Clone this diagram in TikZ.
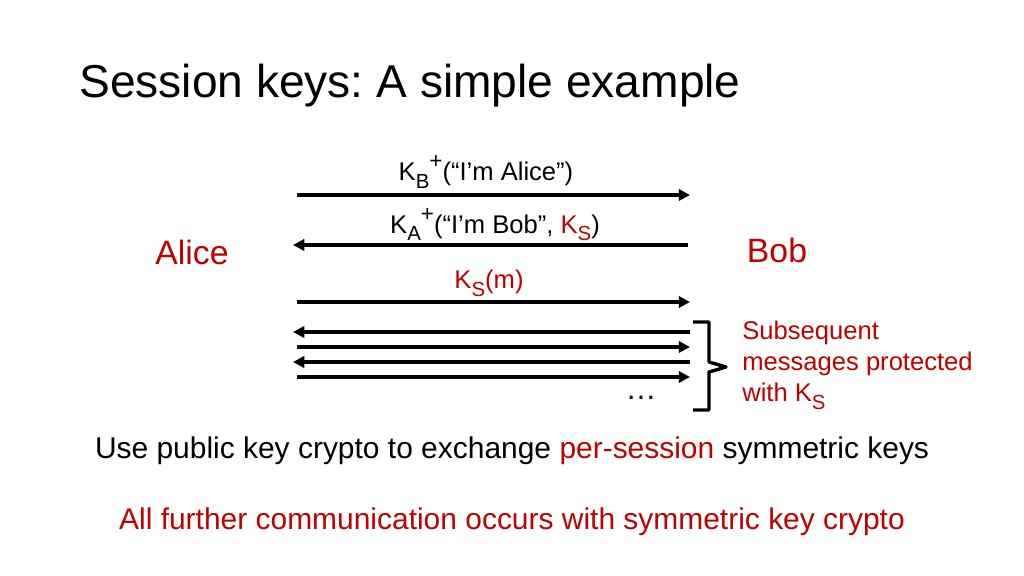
\documentclass[tikz,border=0pt]{standalone}
\usepackage{fontspec}
\setmainfont{Liberation Sans}
\usetikzlibrary{arrows.meta}
\definecolor{dred}{RGB}{192,0,0}
\newcommand{\bigsup}[1]{\raisebox{0.45em}{\fontsize{16}{18}\selectfont #1}}
\newcommand{\lowsub}[1]{\raisebox{-0.3em}{\fontsize{14.5}{16}\selectfont #1}}
\begin{document}
\frenchspacing
\begin{tikzpicture}[x=0.025cm,y=-0.025cm,
  msg/.style={line width=2.2pt,-{Triangle[length=8pt,width=8pt]}},
  lbl/.style={font=\fontsize{18.2}{21}\selectfont,inner sep=0pt},
  body/.style={font=\fontsize{21.3}{25}\selectfont,inner sep=0pt}]
\useasboundingbox (0,0) rectangle (1024,576);
\node[anchor=west,inner sep=0pt,font=\fontsize{32.8}{38}\selectfont] (title) at (79,86) {Session keys: A simple example};
\coordinate (l1) at (297,195); \coordinate (r1) at (690,195);
\coordinate (l2) at (293,245); \coordinate (r2) at (688,245);
\coordinate (l3) at (297,302); \coordinate (r3) at (690,302);
\coordinate (l4) at (293,332); \coordinate (r4) at (690,332);
\coordinate (l5) at (297,347); \coordinate (r5) at (690,347);
\coordinate (l6) at (293,362); \coordinate (r6) at (690,362);
\coordinate (l7) at (297,377); \coordinate (r7) at (690,377);
\draw[msg] (l1) -- (r1);
\draw[msg] (r2) -- (l2);
\draw[msg] (l3) -- (r3);
\draw[msg] (r4) -- (l4);
\draw[msg] (l5) -- (r5);
\draw[msg] (r6) -- (l6);
\draw[msg] (l7) -- (r7);
\node[lbl] (m1) at (486,172) {K\lowsub{B}\bigsup{+}(“I’m Alice”)};
\node[lbl] (m2) at (495,225) {K\lowsub{A}\bigsup{+}(“I’m Bob”, \textcolor{dred}{K\lowsub{S}})};
\node[lbl,text=dred] (m3) at (489,283) {K\lowsub{S}(m)};
\node[font=\fontsize{24}{28}\selectfont,inner sep=0pt,text=dred] (alice) at (192,252) {Alice};
\node[font=\fontsize{24}{28}\selectfont,inner sep=0pt,text=dred] (bob) at (777,250) {Bob};
\node[font=\fontsize{22}{24}\selectfont,inner sep=0pt] (dots) at (641,398) {\dots};
\draw[line width=2.4pt,line join=round] (693,322) -- (709,322) -- (709,362) -- (726,367) -- (709,372) -- (709,410) -- (693,410);
\node[text=dred,anchor=north west,align=left,inner sep=0pt,font=\fontsize{18.2}{22}\selectfont] (sub) at (742,321) {Subsequent\\messages protected\\with K\lowsub{S}};
\node[body] (use) at (512,451) {Use public key crypto to exchange \textcolor{dred}{per-session} symmetric keys};
\node[body,text=dred] (all) at (512,522) {All further communication occurs with symmetric key crypto};
\end{tikzpicture}
\end{document}
